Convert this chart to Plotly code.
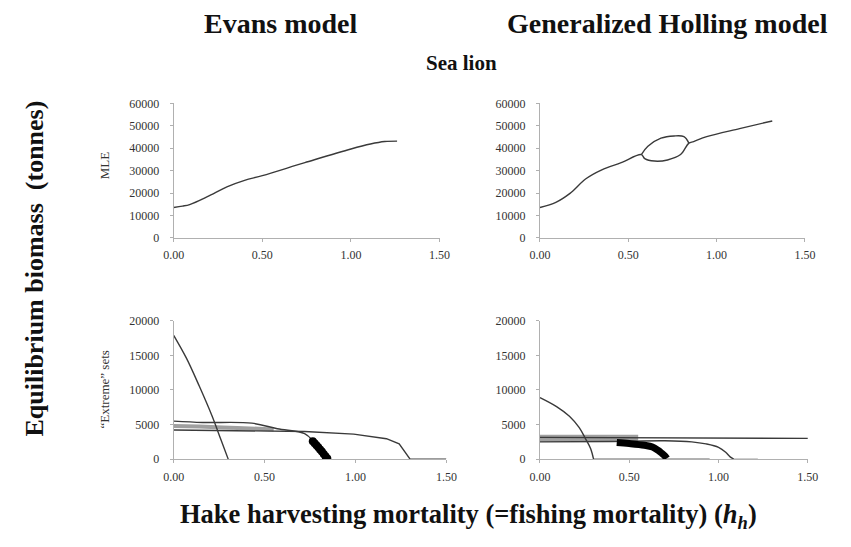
import plotly.graph_objects as go

# ---- data ----
# top-left: Evans model, MLE
h_tl = [0, 0.05, 0.09, 0.19, 0.3, 0.4, 0.5, 0.74, 1.0, 1.11, 1.19, 1.26]
b_tl = [13600, 14200, 14900, 18400, 22800, 25700, 27800, 33600, 39700, 41900, 43000, 43200]

# top-right: Generalized Holling, MLE (main path + upper branch of loop)
h_tr_main = [0, 0.09, 0.17, 0.26, 0.35, 0.46, 0.574, 0.593, 0.648, 0.722, 0.796, 0.843, 0.87, 0.944, 1.13, 1.315]
b_tr_main = [13600, 15900, 19900, 26400, 30400, 33600, 37200, 35400, 34300, 34800, 37200, 42300, 43000, 45200, 48800, 52200]
h_tr_up = [0.574, 0.611, 0.685, 0.759, 0.815, 0.843]
b_tr_up = [37200, 40900, 44500, 45500, 45200, 42300]

# bottom-left: Evans model, "Extreme" sets
h_bl_steep = [0, 0.07, 0.14, 0.21, 0.26, 0.30]
b_bl_steep = [17900, 14600, 10600, 6300, 2800, 0]
h_bl_long = [0, 0.3, 0.72, 0.99, 1.17, 1.24, 1.27, 1.30, 1.5]
b_bl_long = [4200, 4150, 4000, 3620, 2950, 2200, 1030, 0, 0]
h_bl_upper = [0, 0.16, 0.43, 0.57, 0.72, 0.76]
b_bl_upper = [5500, 5300, 5200, 4400, 3700, 2800]
h_bl_band = [0, 0.14, 0.35, 0.55]
b_bl_band = [4800, 4700, 4500, 4300]
h_bl_dots = [0.765, 0.775, 0.785, 0.795, 0.805, 0.815, 0.825, 0.835, 0.845]
b_bl_dots = [2600, 2300, 2000, 1700, 1400, 1100, 750, 400, 100]

# bottom-right: Generalized Holling, "Extreme" sets
h_br_curve = [0, 0.093, 0.165, 0.22, 0.256, 0.284, 0.30]
b_br_curve = [8900, 7600, 6200, 4550, 2900, 1500, 0]
h_br_zero1 = [0.30, 0.95]
b_br_zero1 = [0, 0]
h_br_flat = [0, 1.5]
b_br_flat = [3150, 3000]
h_br_band = [0, 0.55]
b_br_band = [3000, 3000]
h_br_decl = [0, 0.4, 0.7, 0.85, 0.93, 1.0, 1.04, 1.065, 1.085]
b_br_decl = [2500, 2550, 2650, 2500, 2200, 1700, 1000, 330, 0]
h_br_zero2 = [1.085, 1.22]
b_br_zero2 = [0, 0]
h_br_blob = [0.43, 0.5, 0.585, 0.63, 0.66, 0.68, 0.70, 0.71]
b_br_blob = [2400, 2250, 2000, 1750, 1300, 900, 450, 100]

x_ticks = [0, 0.5, 1.0, 1.5]
x_ticklabels = ["0.00", "0.50", "1.00", "1.50"]
y_ticks_top = [0, 10000, 20000, 30000, 40000, 50000, 60000]
y_ticks_bot = [0, 5000, 10000, 15000, 20000]

W, H = 851, 547
LINE = "#3a3a3a"
GRAY = "#a0a0a0"
SERIF = "Liberation Serif, Times New Roman, serif"

fig = go.Figure()

def add(x, y, ax, color=LINE, width=1.4, mode="lines", msize=0, shape="spline"):
    xa = "x" if ax == 1 else f"x{ax}"
    ya = "y" if ax == 1 else f"y{ax}"
    fig.add_trace(go.Scatter(
        x=x, y=y, xaxis=xa, yaxis=ya, mode=mode,
        line=dict(color=color, width=width, shape=shape),
        marker=dict(color="black", size=msize) if msize else None,
        showlegend=False, hoverinfo="skip"))

# top-left
add(h_tl, b_tl, 1)
# top-right
add(h_tr_main, b_tr_main, 2)
add(h_tr_up, b_tr_up, 2)
# bottom-left
add(h_bl_band, b_bl_band, 3, color=GRAY, width=4)
add(h_bl_upper, b_bl_upper, 3)
add(h_bl_long, b_bl_long, 3, shape="linear")
add(h_bl_steep, b_bl_steep, 3)
add(h_bl_dots, b_bl_dots, 3, color="black", width=2, mode="lines+markers", msize=8)
# bottom-right
add(h_br_band, b_br_band, 4, color=GRAY, width=7, shape="linear")
add(h_br_zero1, b_br_zero1, 4, color="#666666", width=1.4, shape="linear")
add(h_br_zero2, b_br_zero2, 4, color=GRAY, width=1.4, shape="linear")
add(h_br_flat, b_br_flat, 4, shape="linear")
add(h_br_decl, b_br_decl, 4)
add(h_br_curve, b_br_curve, 4)
add(h_br_blob, b_br_blob, 4, color="black", width=7)

def px_dom(a, b, total):
    return [a / total, b / total]

def ydom(top, bottom):
    return [1 - bottom / H, 1 - top / H]

axfont = dict(family=SERIF, size=12, color="#333333")
xcommon = dict(range=[0, 1.5], tickvals=x_ticks, ticktext=x_ticklabels,
               showline=True, linecolor="#b0b0b0", linewidth=1, ticks="outside",
               ticklen=3, tickcolor="#b0b0b0", showgrid=False, zeroline=False,
               tickfont=axfont, fixedrange=True, ticklabelstandoff=3)
ycommon = dict(showline=True, linecolor="#b0b0b0", linewidth=1, ticks="outside",
               ticklen=3, tickcolor="#b0b0b0", showgrid=False, zeroline=False,
               tickfont=axfont, tickformat="d", fixedrange=True, ticklabelstandoff=8)

fig.update_layout(
    width=W, height=H, margin=dict(l=0, r=0, t=0, b=0),
    paper_bgcolor="white", plot_bgcolor="white",
    xaxis=dict(domain=px_dom(167, 440, W), anchor="y", **xcommon),
    yaxis=dict(domain=ydom(99, 237), anchor="x", range=[0, 60000], tickvals=y_ticks_top, **ycommon),
    xaxis2=dict(domain=px_dom(543, 815, W), anchor="y2", **xcommon),
    yaxis2=dict(domain=ydom(99, 237), anchor="x2", range=[0, 60000], tickvals=y_ticks_top, **ycommon),
    xaxis3=dict(domain=px_dom(167, 447, W), anchor="y3", **xcommon),
    yaxis3=dict(domain=ydom(322, 464), anchor="x3", range=[0, 20000], tickvals=y_ticks_bot, **ycommon),
    xaxis4=dict(domain=px_dom(543, 818, W), anchor="y4", **xcommon),
    yaxis4=dict(domain=ydom(322, 464), anchor="x4", range=[0, 20000], tickvals=y_ticks_bot, **ycommon),
)

def txt(x, y, s, size, angle=0, color="#111111"):
    fig.add_annotation(x=x / W, y=1 - y / H, xref="paper", yref="paper", text=s,
                       showarrow=False, textangle=angle,
                       font=dict(family=SERIF, size=size, color=color),
                       xanchor="center", yanchor="middle")

txt(277, 17, "<b>Evans model</b>", 28)
txt(674, 17, "<b>Generalized Holling model</b>", 28)
txt(462, 57, "<b>Sea lion</b>", 21)
txt(24, 268, "<b>Equilibrium biomass  (tonnes)</b>", 26, angle=-90)
txt(96, 163, "MLE", 13, angle=-90, color="#333333")
txt(96, 393, "\u201cExtreme\u201d sets", 13, angle=-90, color="#333333")
txt(470, 522, "<b>Hake harvesting mortality (=fishing mortality) (<i>h</i><sub><i>h</i></sub>)</b>", 26.5)

fig.write_html("out.html")
